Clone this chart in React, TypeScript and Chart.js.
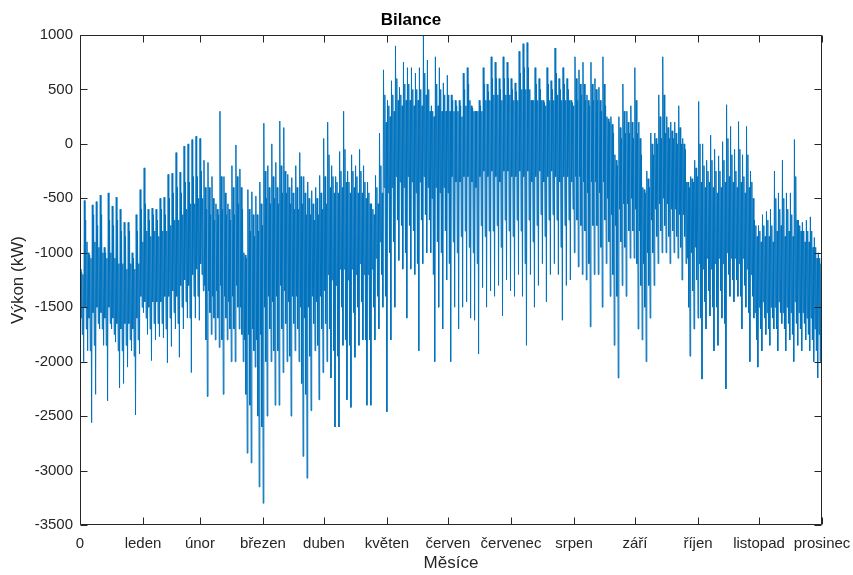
import React, { useEffect, useRef } from "react";
import { Chart, registerables } from "chart.js";

Chart.register(...registerables);

// x axis: hours of the year, ticks at month ends
const HOURS_IN_YEAR = 8760;
const monthHours = [0, 744, 1416, 2160, 2880, 3624, 4344, 5088, 5832, 6552, 7296, 8016, 8760];
const monthLabels = ["0", "leden", "únor", "březen", "duben", "květen", "červen", "červenec", "srpen", "září", "říjen", "listopad", "prosinec"];
const yTicks = [1000, 500, 0, -500, -1000, -1500, -2000, -2500, -3000, -3500];

// Bilance [kW], one group per ~2 days:
// extreme peaks (highs/lows), typical daily peaks (highs2/lows2), dense band edges (coreHighs/coreLows)
const highs = [
  -1150, -520, -1000, -560, -530, -470, -950, -450, -570, -490, -600, -720, -720, -1000, -650, -420, -220, -600, -590, -600, -500, -490, -280, -270, -80, -260, -20, 0, 40, 70, 50,
  -150, -170, -300, -550, 300, -300, -550, -200, -10, -230, -1000, -420, -440, -480, -350, 190, -200, 0, -170, 210, 150, -280, -310, -200, -80, -300, -350, -430, -400, -290, 50,
  200, -200, -300, -70, 300, -250, -100, -200, -50, -200, -350, -550, -290, 100, 680, 400, 580, 900, 520, 750, 700, 700, 650, 700, 1000, 770, 350, 800, 700, 560, 630,
  450, 400, 400, 650, 700, 350, 300, 400, 700, 550, 800, 750, 600, 800, 750, 600, 560, 850, 920, 930, 400, 700, 600, 400, 700, 580, 880, 600, 700, 600, 400,
  800, 680, 750, 450, 750, 600, 520, 800, 250, 250, -100, 250, 550, 300, 350, 700, 200, -400, -250, 100, 100, 450, 800, 250, 200, 200, 350, 50, -350, -300, -150,
  390, 0, -150, 80, -50, -110, 20, 360, 160, -50, 205, -100, 160, -250, -700, -750, -650, -620, -600, -250, -450, -150, -450, -450, 40, -700, -720, -700, -670, -860, -1000,
];

const highs2 = [
  -1180, -700, -1020, -650, -750, -650, -1000, -700, -750, -700, -800, -850, -800, -1050, -800, -600, -550, -700, -650, -700, -600, -650, -500, -450, -400, -450, -350, -350, -300, -300, -250,
  -400, -400, -500, -600, -300, -450, -600, -400, -300, -400, -1020, -600, -650, -650, -550, -250, -400, -300, -400, -200, -250, -400, -450, -400, -300, -450, -500, -550, -500, -450, -300,
  -100, -300, -350, -250, -50, -350, -250, -300, -250, -350, -450, -600, -400, -200, 450, 350, 450, 600, 450, 550, 550, 500, 500, 500, 650, 500, 300, 550, 500, 450, 450,
  400, 350, 350, 500, 550, 330, 300, 350, 550, 480, 600, 600, 500, 600, 600, 500, 480, 650, 700, 700, 400, 550, 500, 380, 550, 500, 650, 500, 550, 500, 380,
  600, 550, 550, 400, 550, 500, 400, 550, 230, 180, -150, 150, 300, 200, 200, 400, 50, -420, -320, 0, 50, 250, 450, 150, 120, 100, 150, 0, -350, -320, -220,
  0, -200, -250, -150, -250, -250, -150, 50, -100, -250, -50, -300, -100, -350, -750, -800, -750, -700, -750, -500, -600, -500, -600, -650, -300, -750, -800, -800, -800, -950, -1050,
];

const coreHighs = [
  -1200, -900, -1050, -900, -950, -1000, -1050, -1000, -1050, -1100, -1100, -1150, -1100, -1150, -1100, -900, -800, -850, -800, -850, -800, -800, -750, -700, -700, -650, -600, -550, -550, -500, -500,
  -600, -650, -700, -650, -600, -650, -700, -650, -550, -600, -1050, -800, -850, -800, -750, -500, -550, -500, -550, -450, -450, -550, -600, -600, -550, -650, -650, -700, -650, -600, -550,
  -400, -450, -450, -400, -350, -450, -400, -450, -450, -500, -550, -650, -550, -450, 200, 250, 300, 400, 350, 400, 400, 350, 400, 350, 450, 300, 250, 350, 300, 300, 300,
  300, 300, 250, 350, 400, 300, 300, 300, 400, 400, 450, 450, 400, 450, 450, 400, 400, 500, 500, 500, 400, 400, 400, 350, 400, 400, 450, 400, 400, 400, 350,
  400, 450, 400, 350, 400, 400, 300, 350, 200, 100, -200, 50, 100, 100, 50, 100, -100, -450, -400, -100, 0, 50, 100, 50, 50, 0, 0, -50, -400, -350, -300,
  -350, -400, -350, -400, -450, -400, -350, -300, -350, -400, -350, -450, -400, -500, -850, -900, -850, -850, -900, -800, -750, -850, -800, -850, -700, -800, -900, -900, -950, -1050, -1100,
];

const coreLows = [
  -1600, -1500, -1600, -1550, -1500, -1550, -1600, -1500, -1600, -1650, -1700, -1650, -1650, -1700, -1600, -1400, -1450, -1500, -1450, -1450, -1450, -1400, -1400, -1350, -1400, -1300, -1250, -1300, -1200, -1150, -1100,
  -1300, -1350, -1400, -1350, -1300, -1400, -1450, -1400, -1300, -1500, -1800, -1750, -1700, -1800, -1750, -1500, -1400, -1450, -1400, -1300, -1350, -1450, -1400, -1400, -1500, -1600, -1500, -1400, -1450, -1400, -1350,
  -1200, -1250, -1300, -1150, -1150, -1250, -1150, -1200, -1100, -1200, -1200, -1150, -1050, -900, -400, -450, -400, -300, -350, -400, -300, -350, -450, -350, -300, -400, -500, -400, -450, -400, -450,
  -300, -350, -350, -300, -300, -350, -400, -300, -250, -300, -250, -300, -350, -250, -250, -300, -300, -250, -300, -250, -350, -300, -250, -350, -300, -250, -300, -350, -300, -300, -350,
  -300, -300, -350, -450, -350, -350, -450, -350, -500, -650, -750, -600, -550, -550, -500, -600, -800, -1100, -1000, -700, -600, -550, -500, -550, -600, -600, -650, -650, -1050, -1000, -950,
  -1100, -1150, -1050, -1150, -1100, -1050, -1100, -1000, -1050, -1050, -1100, -1050, -1150, -1200, -1550, -1500, -1450, -1550, -1500, -1500, -1450, -1550, -1500, -1550, -1450, -1550, -1550, -1600, -1600, -1700, -1750,
];

const lows2 = [
  -1750, -1700, -1900, -1850, -1650, -1700, -1850, -1650, -1750, -1900, -1900, -1850, -1800, -1950, -1800, -1500, -1600, -1700, -1650, -1650, -1650, -1700, -1600, -1550, -1650, -1500, -1450, -1600, -1400, -1400, -1200,
  -1800, -1550, -1600, -1600, -1800, -1600, -1700, -1700, -1500, -1750, -2300, -2400, -1900, -2500, -2600, -2000, -1700, -1900, -1900, -1700, -1650, -1950, -1650, -1700, -2200, -2300, -1950, -1650, -1850, -1700, -1650,
  -1700, -1900, -1950, -1500, -1800, -1850, -1550, -1500, -1450, -1800, -1800, -1500, -1400, -1200, -1400, -1000, -900, -700, -750, -1000, -750, -800, -1100, -700, -650, -700, -1200, -900, -1000, -800, -1100,
  -900, -1000, -850, -800, -950, -1000, -1100, -750, -850, -800, -800, -750, -950, -700, -800, -850, -700, -800, -1100, -700, -900, -750, -650, -850, -700, -650, -700, -950, -750, -700, -600,
  -700, -750, -800, -1100, -750, -750, -950, -700, -900, -1200, -1400, -900, -950, -800, -800, -1100, -1300, -1500, -1300, -1000, -850, -800, -750, -850, -800, -850, -950, -850, -1500, -1350, -1250,
  -1600, -1450, -1350, -1500, -1500, -1350, -1650, -1200, -1250, -1250, -1400, -1300, -1550, -1400, -1800, -1700, -1600, -1700, -1600, -1700, -1550, -1700, -1650, -1750, -1650, -1700, -1650, -1750, -1800, -1900, -2000,
];

const lows = [
  -2000, -1900, -2560, -2300, -1700, -1850, -2360, -1700, -1820, -2240, -2200, -2050, -1900, -2490, -1930, -1550, -1750, -1990, -1800, -1770, -1780, -2010, -1860, -1700, -1960, -1700, -1600, -2100, -1600, -1620, -1350,
  -2320, -1750, -1800, -1870, -2300, -1800, -2000, -2000, -1700, -2000, -2840, -2930, -2050, -3150, -3300, -2500, -2000, -2400, -2400, -2100, -2000, -2500, -1900, -2000, -2870, -3070, -2450, -1900, -2350, -2100, -2000,
  -2150, -2600, -2600, -1850, -2350, -2420, -1960, -1850, -1800, -2400, -2400, -1800, -1700, -1500, -2460, -1800, -1500, -1070, -1150, -1600, -1150, -1200, -1900, -1100, -1000, -1000, -2000, -1500, -1700, -1250, -2000,
  -1500, -1700, -1500, -1450, -1600, -1620, -1930, -1320, -1500, -1350, -1400, -1300, -1580, -1250, -1350, -1400, -1200, -1400, -1850, -1200, -1500, -1300, -1100, -1450, -1200, -1100, -1200, -1620, -1300, -1250, -1000,
  -1130, -1200, -1250, -1680, -1200, -1200, -1500, -1100, -1400, -1850, -2150, -1300, -1400, -1050, -1050, -1700, -1800, -2000, -1600, -1300, -1100, -1000, -1000, -1100, -1000, -1050, -1250, -1100, -1950, -1700, -1600,
  -2160, -1700, -1580, -1900, -1850, -1600, -2250, -1400, -1450, -1400, -1700, -1500, -2000, -1600, -2050, -1900, -1750, -1850, -1700, -1900, -1650, -1900, -1800, -2000, -1850, -1900, -1800, -1900, -2000, -2150, -2300,
];

const AXIS_COLOR = "#262626";
const LINE_COLOR = "#0072BD";
const FONT = "'Liberation Sans', Arial, Helvetica, sans-serif";

const boxPlugin = {
  id: "matlabBox",
  afterDraw(chart: any) {
    const { ctx, chartArea, scales } = chart;
    const L = Math.round(chartArea.left) + 0.5;
    const R = Math.round(chartArea.right) - 0.5;
    const T = Math.round(chartArea.top) + 0.5;
    const B = Math.round(chartArea.bottom) - 0.5;
    const tl = 7;
    ctx.save();
    ctx.strokeStyle = AXIS_COLOR;
    ctx.lineWidth = 1;
    ctx.beginPath();
    ctx.rect(L, T, R - L, B - T);
    monthHours.forEach((h) => {
      const px = Math.round(scales.x.getPixelForValue(h)) + 0.5;
      ctx.moveTo(px, B);
      ctx.lineTo(px, B - tl);
      ctx.moveTo(px, T);
      ctx.lineTo(px, T + tl);
    });
    yTicks.forEach((v) => {
      const py = Math.round(scales.y.getPixelForValue(v)) + 0.5;
      ctx.moveTo(L, py);
      ctx.lineTo(L + tl, py);
      ctx.moveTo(R, py);
      ctx.lineTo(R - tl, py);
    });
    ctx.stroke();
    ctx.restore();
  },
};

export default function App() {
  const canvasRef = useRef<HTMLCanvasElement | null>(null);

  useEffect(() => {
    if (!canvasRef.current) return;
    const step = HOURS_IN_YEAR / highs.length;
    const points: { x: number; y: number }[] = [];
    highs.forEach((h, i) => {
      const seq = [h, coreLows[i], highs2[i], lows2[i], coreHighs[i], lows[i]];
      seq.forEach((v, k) => {
        points.push({ x: (i + (k + 0.5) / seq.length) * step, y: v });
      });
    });

    const chart = new Chart(canvasRef.current, {
      type: "line",
      data: {
        datasets: [
          {
            label: "Bilance",
            data: points,
            borderColor: LINE_COLOR,
            borderWidth: 1,
            pointRadius: 0,
            tension: 0,
            fill: false,
          },
        ],
      },
      plugins: [boxPlugin],
      options: {
        responsive: false,
        animation: false,
        parsing: false,
        layout: { padding: { left: 0, right: 31, top: 0, bottom: 0 } },
        plugins: {
          legend: { display: false },
          tooltip: { enabled: false },
          title: {
            display: true,
            text: "Bilance",
            color: "#000000",
            font: { family: FONT, size: 17, weight: "bold", lineHeight: 1.2 },
            padding: { top: 9.8, bottom: 4.8 },
          },
        },
        scales: {
          x: {
            type: "linear",
            min: 0,
            max: HOURS_IN_YEAR,
            afterBuildTicks: (scale: any) => {
              scale.ticks = monthHours.map((v) => ({ value: v }));
            },
            afterFit: (scale: any) => {
              scale.height = 50;
              scale.paddingLeft = 0;
              scale.paddingRight = 0;
            },
            grid: { display: false, drawTicks: false },
            border: { display: false },
            ticks: {
              autoSkip: false,
              maxRotation: 0,
              padding: 10,
              color: AXIS_COLOR,
              font: { family: FONT, size: 15 },
              callback: (_v: any, i: number) => monthLabels[i],
            },
            title: {
              display: true,
              text: "Měsíce",
              color: AXIS_COLOR,
              font: { family: FONT, size: 17 },
              padding: { top: 0, bottom: 1 },
            },
          },
          y: {
            type: "linear",
            min: -3500,
            max: 1000,
            afterBuildTicks: (scale: any) => {
              scale.ticks = yTicks.map((v) => ({ value: v }));
            },
            afterFit: (scale: any) => {
              scale.width = 80;
              scale.paddingTop = 0;
              scale.paddingBottom = 0;
            },
            grid: { display: false, drawTicks: false },
            border: { display: false },
            ticks: {
              padding: 7,
              color: AXIS_COLOR,
              font: { family: FONT, size: 15 },
              callback: (v: any) => String(v),
            },
            title: {
              display: true,
              text: "Výkon (kW)",
              color: AXIS_COLOR,
              font: { family: FONT, size: 17 },
              padding: { top: 8, bottom: 0 },
            },
          },
        },
      },
    });
    return () => chart.destroy();
  }, []);

  return (
    <div style={{ position: "fixed", left: 0, top: 0, width: 853, height: 575, background: "#ffffff" }}>
      <canvas ref={canvasRef} width={853} height={575} style={{ display: "block" }} />
    </div>
  );
}
